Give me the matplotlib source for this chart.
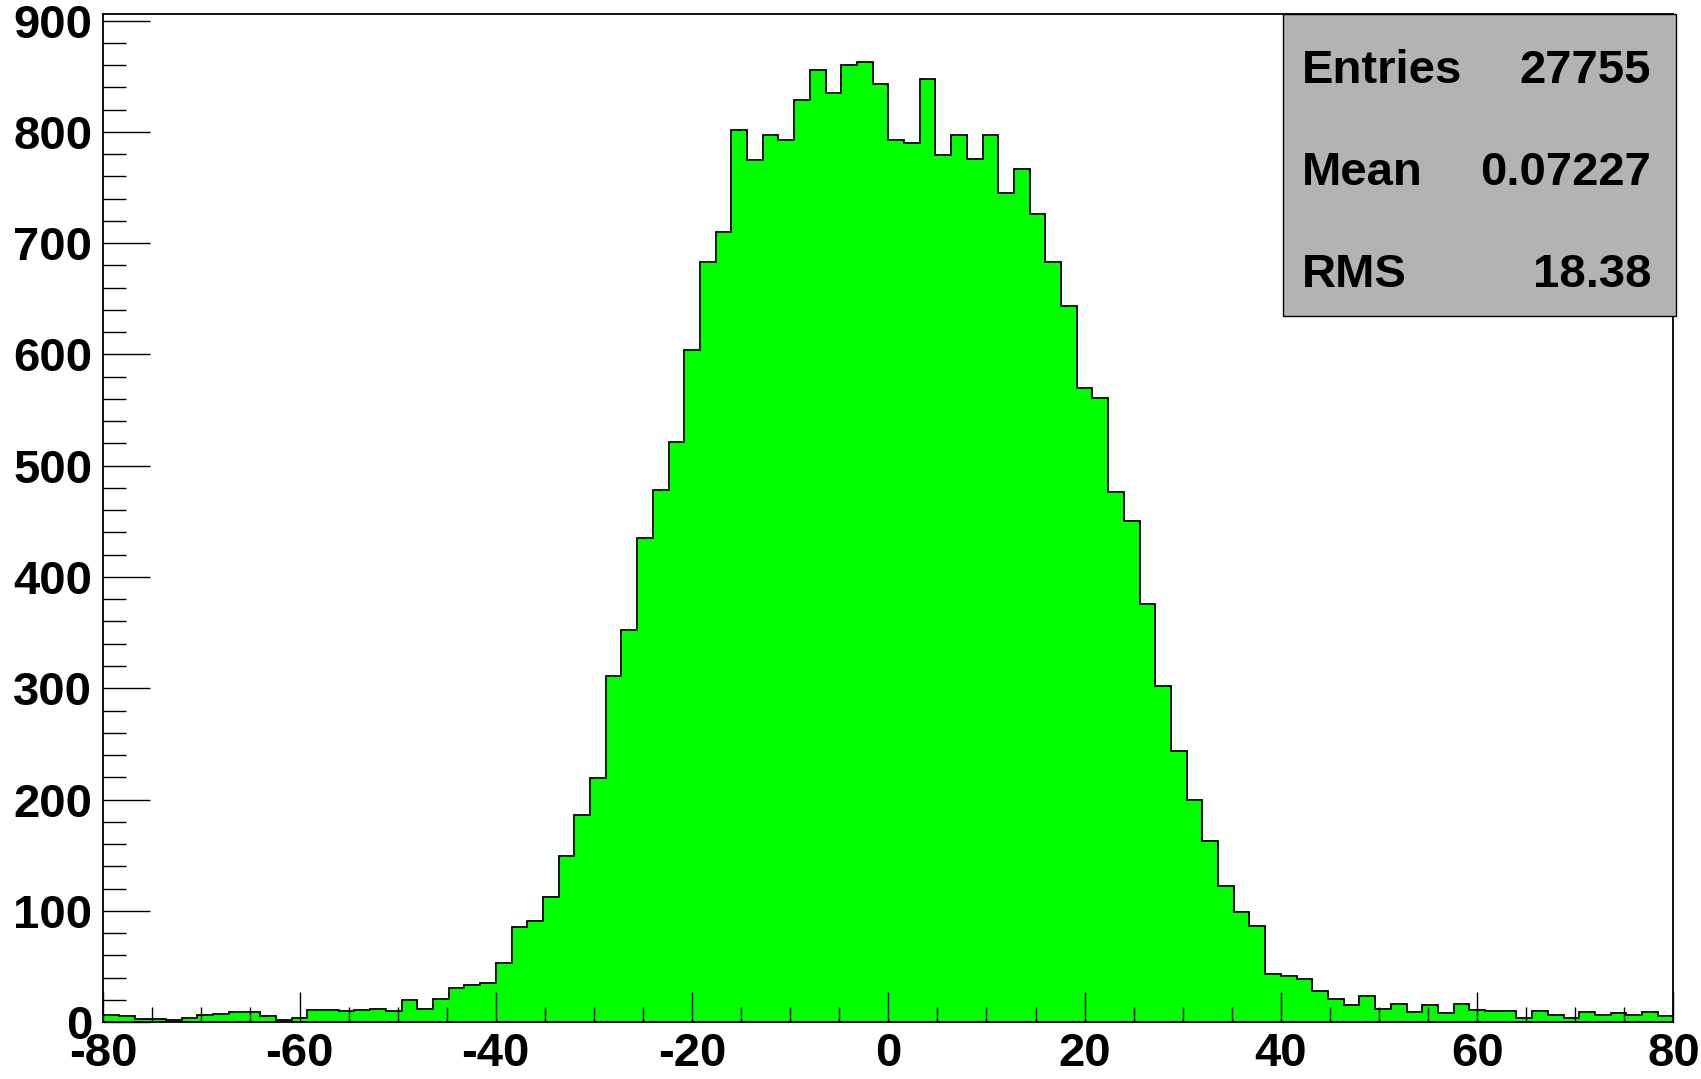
import matplotlib
matplotlib.use('Agg')
import matplotlib.pyplot as plt
import numpy as np
from matplotlib.patches import Rectangle
from matplotlib.ticker import MultipleLocator

# histograma: 100 bins de -80 a 80
x_min, x_max, n_bins = -80, 80, 100
cuentas = [
	6, 5, 3, 3, 2, 4, 6, 7, 9, 9, 5, 2, 4, 11, 11, 10, 11, 12, 10, 20,
	12, 21, 31, 33, 35, 53, 85, 91, 112, 149, 186, 219, 311, 352, 435, 478,
	521, 604, 683, 710, 802, 775, 797, 793, 829, 856, 835, 860, 863, 843,
	793, 790, 848, 779, 797, 776, 797, 745, 767, 726, 683, 644, 570, 561, 476, 450,
	376, 302, 244, 200, 163, 122, 99, 86, 43, 41, 39, 28, 21, 15,
	23, 12, 16, 9, 15, 8, 16, 11, 10, 10, 4, 10, 6, 4, 9, 6, 8, 6, 9, 5,
]
y_max = 906

etiquetas_stats = ['Entries', 'Mean', 'RMS']
valores_stats = ['27755', '0.07227', '18.38']

plt.rcParams['font.family'] = ['Liberation Sans', 'DejaVu Sans']
plt.rcParams['font.weight'] = 'bold'
plt.rcParams['axes.unicode_minus'] = False  # ROOT usa guion simple

fig = plt.figure(figsize=(17.01, 10.79), dpi=100)
ax = fig.add_axes([0.0607, 0.0528, 0.9231, 0.9342])

bordes = np.linspace(x_min, x_max, n_bins + 1)
ax.stairs(cuentas, bordes, fill=True, color='#00ff00', baseline=0)
ax.stairs(cuentas, bordes, color='black', linewidth=1.3, baseline=0)

ax.set_xlim(x_min, x_max)
ax.set_ylim(0, y_max)

ax.xaxis.set_major_locator(MultipleLocator(20))
ax.xaxis.set_minor_locator(MultipleLocator(5))
ax.yaxis.set_major_locator(MultipleLocator(100))
ax.yaxis.set_minor_locator(MultipleLocator(20))

ax.tick_params(which='both', direction='in', top=False, right=False,
			   labelsize=34, width=1.0, color='black')
ax.tick_params(axis='x', which='major', length=21.5, pad=7)
ax.tick_params(axis='x', which='minor', length=10.8)
ax.tick_params(axis='y', which='major', length=34, pad=8)
ax.tick_params(axis='y', which='minor', length=16.5)

for lbl in ax.get_xticklabels() + ax.get_yticklabels():
	lbl.set_fontweight('bold')

for sp in ax.spines.values():
	sp.set_linewidth(1.3)

# caja de estadisticas
caja = Rectangle((0.7541, 0.7071), 0.2310, 0.2799, transform=fig.transFigure,
				 facecolor='#b3b3b3', edgecolor='black', linewidth=1.0, zorder=5)
fig.patches.append(caja)
baselines = [1 - 83 / 1079, 1 - 185 / 1079, 1 - 287 / 1079]
for etq, val, yb in zip(etiquetas_stats, valores_stats, baselines):
	fig.text(1302 / 1701, yb, etq, fontsize=34, fontweight='bold',
			 ha='left', va='baseline', zorder=6)
	fig.text(1651 / 1701, yb, val, fontsize=34, fontweight='bold',
			 ha='right', va='baseline', zorder=6)

plt.savefig('out.png', dpi=100)
